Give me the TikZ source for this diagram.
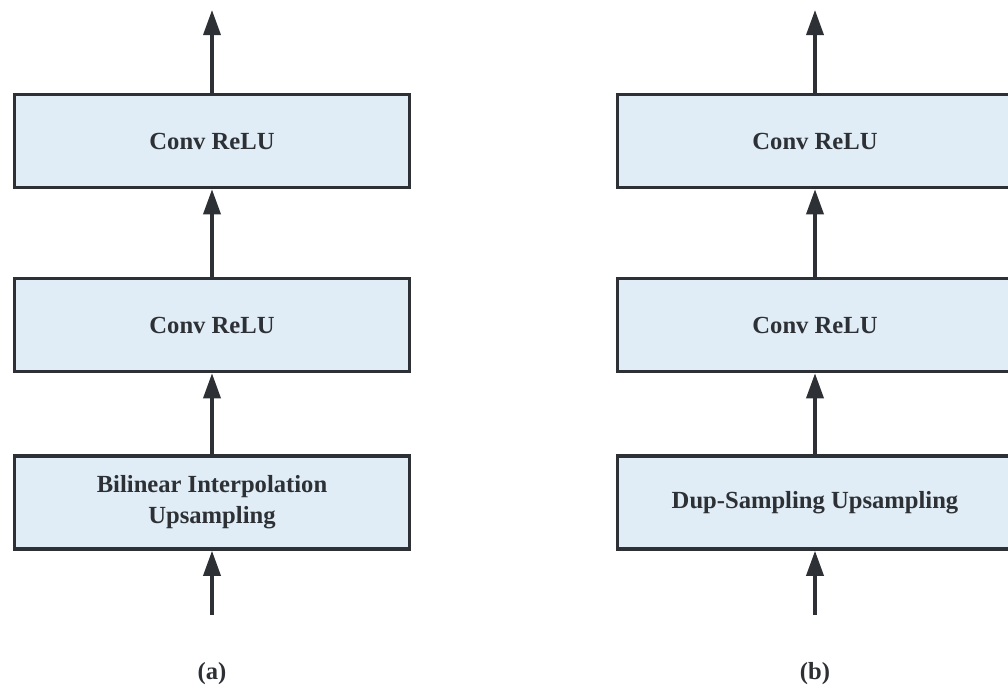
\documentclass[tikz,border=0pt]{standalone}
\usepackage{fontspec}
\setmainfont{Liberation Serif}
\usetikzlibrary{arrows.meta}
\definecolor{boxfill}{HTML}{E0ECF6}
\definecolor{boxline}{HTML}{2D3135}

\begin{document}
\begin{tikzpicture}[x=0.025cm, y=-0.025cm,
  block/.style={rectangle, draw=boxline, line width=2.5pt, fill=boxfill, minimum width=9.875cm, minimum height=2.325cm, align=center, text=boxline, font=\fontsize{17.5}{22}\selectfont\bfseries},
  uparrow/.style={draw=boxline, line width=2.5pt, -{Triangle[width=0.425cm, length=0.625cm]}},
  caption/.style={text=boxline, font=\fontsize{17.5}{22}\selectfont\bfseries}]
  \clip (0,0) rectangle (1008,685);

  % (a)
  \node[block] at (212,502.5) (a1) {Bilinear Interpolation\\Upsampling};
  \node[block] at (212,325) (a2) {Conv ReLU};
  \node[block] at (212,141) (a3) {Conv ReLU};
  \coordinate (a0) at (212,615);
  \coordinate (a4) at (212,10);
  \draw[uparrow] (a0) -- (a1);
  \draw[uparrow] (a1) -- (a2);
  \draw[uparrow] (a2) -- (a3);
  \draw[uparrow] (a3) -- (a4);
  \node[caption] at (212,674) (la) {(a)};

  % (b)
  \node[block] at (815,502.5) (b1) {Dup-Sampling Upsampling};
  \node[block] at (815,325) (b2) {Conv ReLU};
  \node[block] at (815,141) (b3) {Conv ReLU};
  \coordinate (b0) at (815,615);
  \coordinate (b4) at (815,10);
  \draw[uparrow] (b0) -- (b1);
  \draw[uparrow] (b1) -- (b2);
  \draw[uparrow] (b2) -- (b3);
  \draw[uparrow] (b3) -- (b4);
  \node[caption] at (815,674) (lb) {(b)};
\end{tikzpicture}
\end{document}
